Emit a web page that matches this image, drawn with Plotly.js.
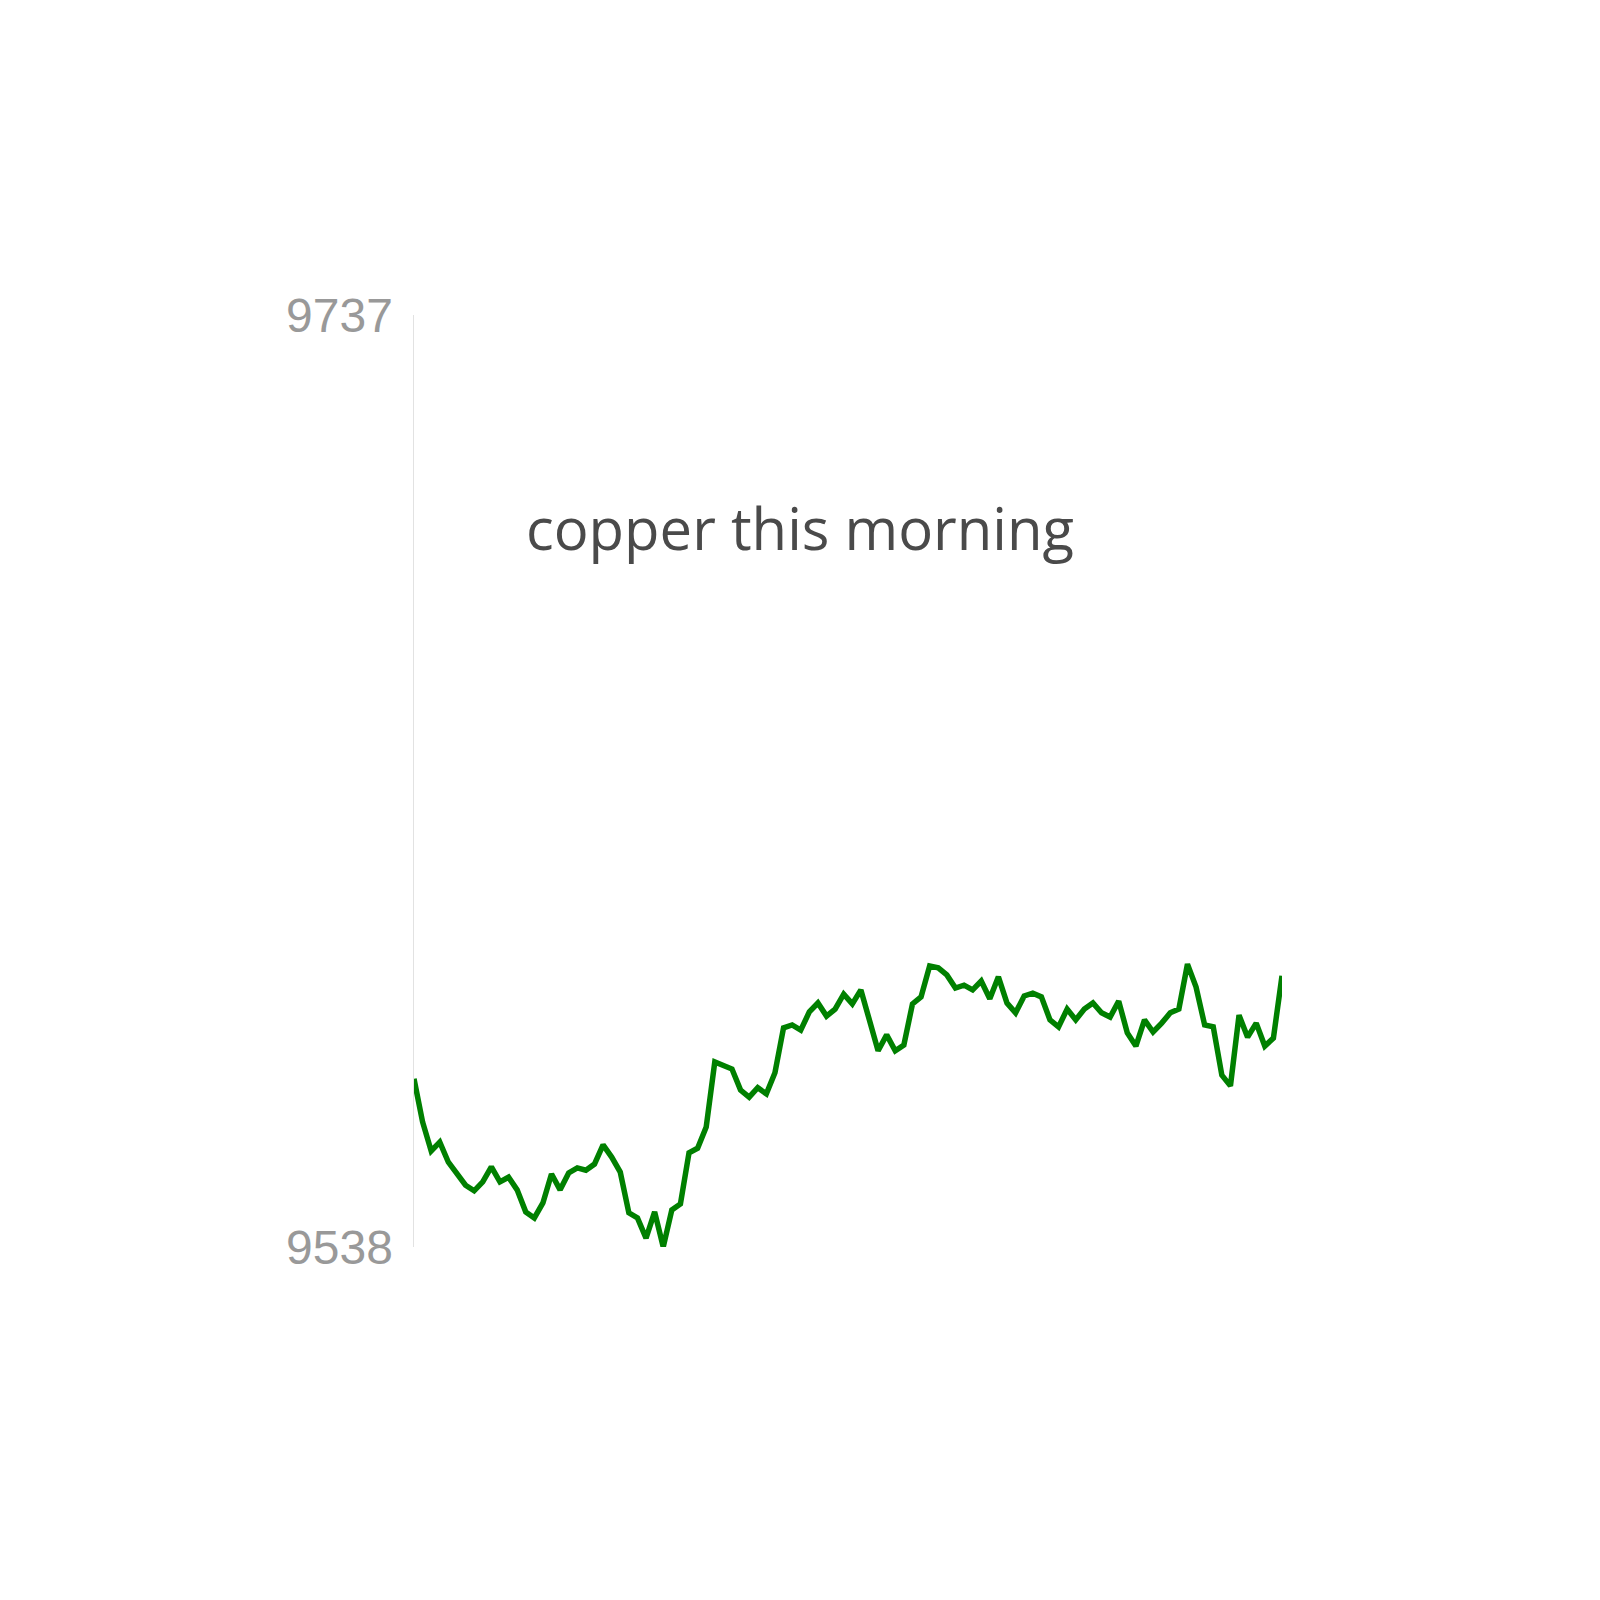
<!DOCTYPE html>
<html>
<head>
<meta charset="utf-8">
<script src="https://cdn.plot.ly/plotly-3.0.1.min.js"></script>
<style>html,body{margin:0;padding:0;background:#fff;}#chart{width:1600px;height:1600px;}</style>
</head>
<body>
<div id="chart"></div>
<script>
const titleText = "copper this morning";
const tickValues = [9538, 9737];
const tickLabels = ["9538", "9737"];
const prices = [
  9573.9, 9564.7, 9558.5, 9560.4, 9556.1, 9553.4, 9551.2, 9550.0, 9551.9, 9555.1,
  9551.9, 9552.9, 9550.2, 9545.5, 9544.2, 9547.4, 9553.6, 9550.2, 9553.8, 9554.9,
  9554.4, 9555.7, 9559.8, 9557.2, 9554.0, 9545.3, 9544.2, 9539.9, 9545.5, 9538.0,
  9545.9, 9547.2, 9558.1, 9559.1, 9563.6, 9577.5, 9576.9, 9576.0, 9571.5, 9570.0,
  9572.0, 9570.7, 9575.2, 9584.8, 9585.4, 9584.3, 9588.2, 9590.1, 9587.3, 9588.8,
  9592.0, 9589.9, 9592.9, 9586.5, 9579.9, 9583.3, 9579.9, 9581.1, 9589.9, 9591.4,
  9598.0, 9597.6, 9596.1, 9593.3, 9593.9, 9592.9, 9594.8, 9591.0, 9595.7, 9590.1,
  9588.0, 9591.6, 9592.2, 9591.4, 9586.5, 9585.0, 9588.8, 9586.5, 9588.8, 9590.1,
  9588.0, 9587.1, 9590.5, 9583.7, 9580.9, 9586.5, 9583.9, 9585.8, 9588.0, 9588.8,
  9598.4, 9593.5, 9585.4, 9585.0, 9574.7, 9572.4, 9587.5, 9582.8, 9585.8, 9580.9,
  9582.6, 9595.9
];
const steps = prices.map((_, i) => i);

Plotly.newPlot('chart', [{
  x: steps,
  y: prices,
  type: 'scatter',
  mode: 'lines',
  line: {color: '#008000', width: 5.5},
  hoverinfo: 'skip'
}], {
  width: 1600,
  height: 1600,
  margin: {l: 414, r: 318, t: 315, b: 353, pad: 0},
  paper_bgcolor: '#ffffff',
  plot_bgcolor: '#ffffff',
  showlegend: false,
  title: {
    text: titleText,
    x: 0.5, xref: 'container', xanchor: 'center',
    y: 1 - 530/1600, yref: 'container', yanchor: 'middle',
    font: {family: 'Open Sans, sans-serif', size: 58, color: '#4a4a4a'}
  },
  xaxis: {
    range: [0, prices.length - 1],
    visible: false,
    showgrid: false,
    zeroline: false,
    fixedrange: true
  },
  yaxis: {
    range: [tickValues[0], tickValues[1]],
    tickmode: 'array',
    tickvals: tickValues,
    ticktext: tickLabels,
    showgrid: false,
    zeroline: false,
    showline: true,
    linecolor: '#e2e2e2',
    linewidth: 1.5,
    ticks: '',
    ticklabelstandoff: 10,
    tickfont: {family: 'Liberation Sans, Arial, sans-serif', size: 48, color: '#999999'},
    fixedrange: true
  }
}, {displayModeBar: false, staticPlot: true});
</script>
</body>
</html>
